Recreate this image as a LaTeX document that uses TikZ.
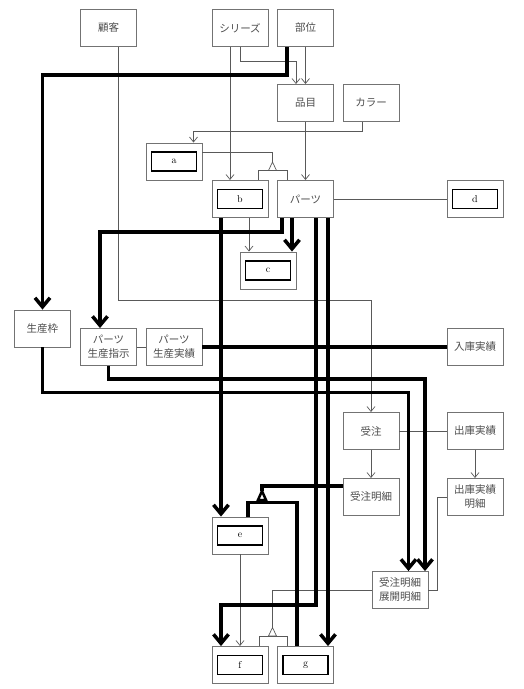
\documentclass[tikz,border=0pt]{standalone}
\usepackage{fontspec}
\newfontfamily\jpfont{Noto Sans CJK JP}
\usetikzlibrary{arrows.meta}
\begin{document}
\begin{tikzpicture}[x=1pt, y=-1pt,
  ent/.style={draw=black!55, line width=0.9pt, minimum width=56pt, minimum height=37pt,
    inner sep=1pt, align=center, text=black!70, font=\jpfont\fontsize{10.5}{14}\selectfont},
  keybox/.style={draw=black, line width=1.6pt, minimum width=45pt, minimum height=19pt,
    inner sep=0pt, font=\normalsize},
  rel/.style={draw=black!65, line width=0.7pt},
  relar/.style={rel, -{Straight Barb[length=5pt,width=8pt]}},
  big/.style={draw=black, line width=3.5pt},
  bigar/.style={big, -{Straight Barb[length=9pt,width=15pt]}}]
  \useasboundingbox (0,0) rectangle (523,689);
  \node[ent] (kokyaku) at (108.5,28) {顧客};
  \node[ent] (series) at (240,28) {シリーズ};
  \node[ent] (bui) at (305.5,28) {部位};
  \node[ent] (hinmoku) at (305.5,103) {品目};
  \node[ent] (color) at (371,103) {カラー};
  \node[ent] (a) at (174,161.5) {};
  \node[keybox] (a-key) at (a) {a};
  \node[ent] (b) at (240,199) {};
  \node[keybox] (b-key) at (b) {b};
  \node[ent] (parts) at (305.5,199) {パーツ};
  \node[ent] (d) at (475,199) {};
  \node[keybox] (d-key) at (d) {d};
  \node[ent] (c) at (268,270.5) {};
  \node[keybox] (c-key) at (c) {c};
  \node[ent] (waku) at (42.5,328.5) {生産枠};
  \node[ent] (shiji) at (108.5,347) {パーツ\\生産指示};
  \node[ent] (jisseki) at (174,347) {パーツ\\生産実績};
  \node[ent] (nyuko) at (475,347) {入庫実績};
  \node[ent] (juchu) at (371,431) {受注};
  \node[ent] (shukko) at (475,431) {出庫実績};
  \node[ent] (meisai) at (371,497) {受注明細};
  \node[ent] (shukkomeisai) at (475,497) {出庫実績\\明細};
  \node[ent] (e) at (240,535.5) {};
  \node[keybox] (e-key) at (e) {e};
  \node[ent] (tenkai) at (400,590) {受注明細\\展開明細};
  \node[ent] (f) at (240,665) {};
  \node[keybox] (f-key) at (f) {f};
  \node[ent] (g) at (305.5,665) {};
  \node[keybox] (g-key) at (g) {g};
  \coordinate (sub-ab) at (272.5,162);
  \coordinate (sub-eg) at (262,491);
  \coordinate (sub-fg) at (272.5,627.5);

  \draw[relar] ([xshift=-10pt]series.south) -- ([xshift=-10pt]b.north);
  \draw[relar] (series.south) -- ++(0,14) -| ([xshift=-9.5pt]hinmoku.north);
  \draw[relar] (bui.south) -- (hinmoku.north);
  \draw[relar] ([xshift=10pt]kokyaku.south) -- ++(0,253) -| (juchu.north);
  \draw[relar] ([xshift=-9pt]color.south) -- ++(0,9) -| ([xshift=19.5pt]a.north);
  \draw[relar] (hinmoku.south) -- (parts.north);
  \draw[rel] ([yshift=9.5pt]a.east) -| (sub-ab);
  \draw[rel] (sub-ab) -- ++(-4,8.5) -- ++(8,0) -- cycle;
  \draw[rel] ([xshift=18pt]b.north) -- ++(0,-9.5) -| ([xshift=-18.5pt]parts.north);
  \draw[relar] ([xshift=9pt]b.south) -- ([xshift=-19pt]c.north);
  \draw[rel] (parts.east) -- (d.west);
  \draw[rel] (shiji.east) -- (jisseki.west);
  \draw[rel] (juchu.east) -- (shukko.west);
  \draw[relar] (juchu.south) -- (meisai.north);
  \draw[relar] (shukko.south) -- (shukkomeisai.north);
  \draw[rel] (shukkomeisai.west) -- ++(-9.5,0) |- (tenkai.east);
  \draw[rel] (tenkai.west) -| (sub-fg);
  \draw[rel] (sub-fg) -- ++(-4,8.5) -- ++(8,0) -- cycle;
  \draw[rel] ([xshift=19pt]f.north) -- ++(0,-10) -| ([xshift=-18.5pt]g.north);
  \draw[relar] (e.south) -- (f.north);

  \draw[bigar] ([xshift=-18.5pt]bui.south) -- ++(0,28) -| (waku.north);
  \draw[bigar] ([xshift=-13.5pt]parts.south) -- ([xshift=24pt]c.north);
  \draw[bigar] ([xshift=-23.5pt]parts.south) -- ++(0,14) -| ([xshift=-8.5pt]shiji.north);
  \draw[bigar] ([xshift=-19pt]b.south) -- ([xshift=-19pt]e.north);
  \draw[bigar] ([xshift=10.5pt]parts.south) -- ++(0,387) -| ([xshift=-19pt]f.north);
  \draw[bigar] ([xshift=22.5pt]parts.south) -- ([xshift=22.5pt]g.north);
  \draw[big] (jisseki.east) -- (nyuko.west);
  \draw[bigar] (shiji.south) -- ++(0,13) -| ([xshift=25pt]tenkai.north);
  \draw[bigar] (waku.south) -- ++(0,45) -| ([xshift=8.5pt]tenkai.north);
  \draw[big] ([yshift=11pt]meisai.west) -| (sub-eg);
  \draw[big, line width=2.5pt] (sub-eg) -- ++(-4,9) -- ++(8,0) -- cycle;
  \draw[big] ([xshift=8pt]e.north) -- ++(0,-14) -| ([xshift=-8.5pt]g.north);
\end{tikzpicture}
\end{document}
